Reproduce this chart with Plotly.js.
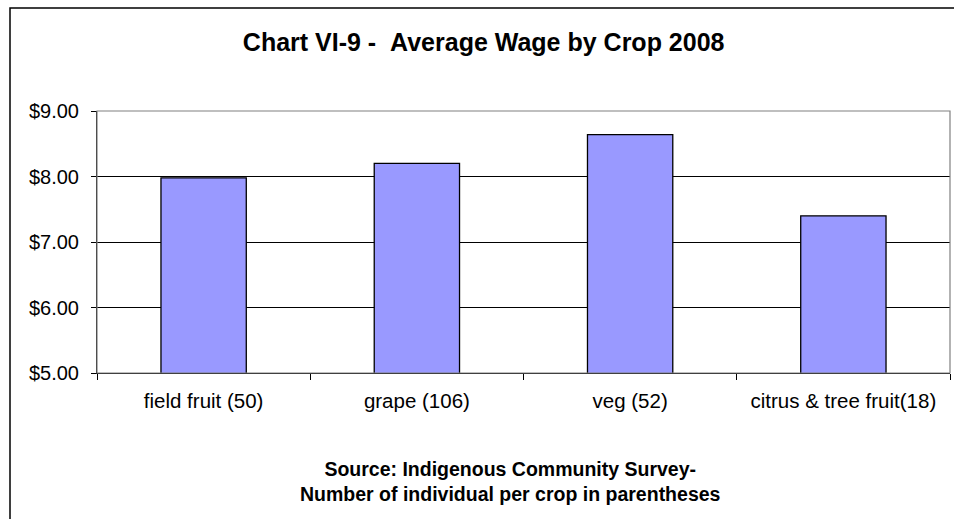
<!DOCTYPE html>
<html>
<head>
<meta charset="utf-8">
<script src="https://cdn.plot.ly/plotly-3.0.1.min.js"></script>
<style>
  html, body { margin: 0; padding: 0; background: #fff; }
  #chart { width: 954px; height: 519px; }
</style>
</head>
<body>
<div id="chart"></div>
<script>
const categories = ["field fruit (50)", "grape (106)", "veg (52)", "citrus & tree fruit(18)"];
const avgWage = [7.98, 8.20, 8.64, 7.40];
const yTicks = [5, 6, 7, 8, 9];
const titleText = "<b>Chart VI-9 - &nbsp;Average Wage by Crop 2008</b>";
const sourceText = "<b>Source: Indigenous Community Survey-<br>Number of individual per crop in parentheses</b>";

const trace = {
  type: "bar",
  x: categories,
  y: avgWage,
  marker: { color: "#9999FF", line: { color: "#000000", width: 1.3 } },
  hoverinfo: "skip"
};

const layout = {
  width: 954,
  height: 519,
  margin: { l: 97, r: 4, t: 111, b: 146 },
  paper_bgcolor: "#ffffff",
  plot_bgcolor: "#ffffff",
  font: { family: "Liberation Sans, Arial, sans-serif", color: "#000000" },
  title: {
    text: titleText,
    font: { size: 25, color: "#000000" },
    x: 0.507, xanchor: "center",
    y: 0.918, yanchor: "middle",
    xref: "container", yref: "container"
  },
  bargap: 0.6,
  showlegend: false,
  xaxis: {
    type: "category",
    showline: true, linecolor: "#000000", linewidth: 1,
    ticks: "outside", ticklen: 6, tickcolor: "#000000", tickwidth: 1,
    tickson: "boundaries",
    ticklabelstandoff: 9,
    showgrid: false, zeroline: false,
    tickfont: { size: 20.5, color: "#000000" },
    fixedrange: true
  },
  yaxis: {
    range: [5, 9],
    tickvals: yTicks,
    tickformat: "$.2f",
    showline: true, linecolor: "#000000", linewidth: 1,
    ticks: "outside", ticklen: 5, tickcolor: "#000000", tickwidth: 1,
    ticklabelstandoff: 8,
    showgrid: true, gridcolor: "#000000", gridwidth: 1,
    zeroline: false,
    tickfont: { size: 20, color: "#000000" },
    fixedrange: true
  },
  annotations: [{
    text: sourceText,
    xref: "paper", yref: "paper",
    x: 0.485, y: (373 - 481) / 262,
    xanchor: "center", yanchor: "middle",
    showarrow: false,
    align: "center",
    font: { size: 19.5, color: "#000000" }
  }],
  shapes: [
    {
      type: "rect", xref: "paper", yref: "paper",
      x0: 0, x1: 1, y0: 0, y1: 1,
      line: { color: "#808080", width: 1.2 },
      fillcolor: "rgba(0,0,0,0)",
      layer: "above"
    },
    {
      type: "rect", xref: "paper", yref: "paper",
      x0: (10 - 97) / 853, x1: (970 - 97) / 853,
      y0: (373 - 560) / 262, y1: (373 - 8) / 262,
      line: { color: "#000000", width: 1.5 },
      fillcolor: "rgba(0,0,0,0)",
      layer: "above"
    }
  ]
};

Plotly.newPlot("chart", [trace], layout, { displayModeBar: false, staticPlot: true });
</script>
</body>
</html>
